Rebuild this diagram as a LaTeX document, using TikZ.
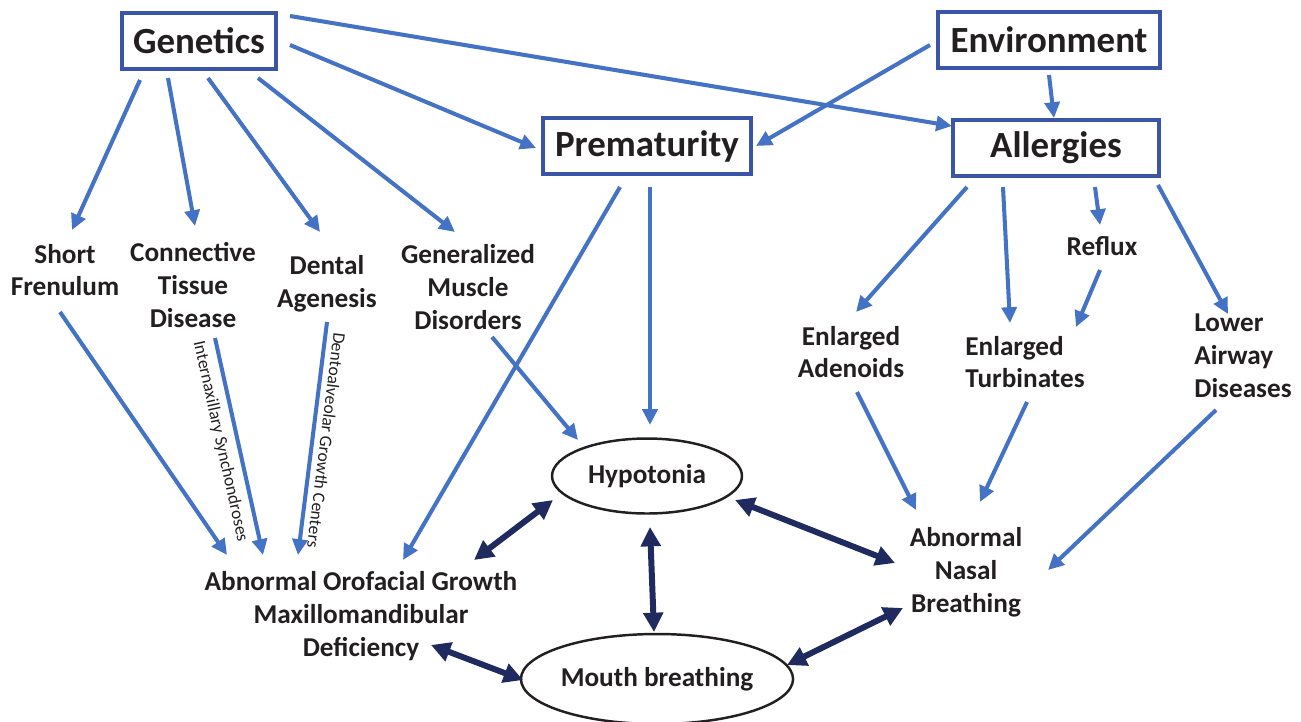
\documentclass[tikz,border=0pt]{standalone}
\usepackage{fontspec}
\setmainfont{Carlito}
\usepackage{tikz}
\usetikzlibrary{arrows.meta,calc,shapes.geometric}
\definecolor{lblue}{HTML}{4472C4}
\definecolor{bframe}{HTML}{3A55A8}
\definecolor{navy}{HTML}{1F2A5F}
\definecolor{txt}{HTML}{231F20}

\begin{document}
\begin{tikzpicture}[x=0.02cm,y=-0.02cm,
box/.style={draw=bframe,line width=2pt,minimum height=1.12cm,text=txt,font=\fontsize{21}{25}\selectfont\bfseries},
lbl/.style={align=center,text=txt,font=\fontsize{15.5}{18.7}\selectfont\bfseries},
ell/.style={ellipse,draw=txt,line width=1.4pt,inner sep=0pt},
arr/.style={draw=lblue,line width=2.3pt,-{Triangle[length=9pt,width=8.5pt]}},
dbl/.style={draw=navy,line width=3.4pt,{Triangle[length=11pt,width=11pt]}-{Triangle[length=11pt,width=11pt]}},
side/.style={text=txt,font=\fontsize{10}{12}\selectfont}]
\useasboundingbox (0,0) rectangle (1301,721);

\node[box,minimum width=3.08cm] (gen) at (199,41) {Genetics};
\node[box,minimum width=4.44cm] (env) at (1049,40) {Environment};
\node[box,minimum width=4.16cm] (prem) at (647,146) {Prematurity};
\node[box,minimum width=4.12cm] (alg) at (1056,148) {Allergies};

\node[lbl] (sf) at (65,270) {Short\\Frenulum};
\node[lbl] (ctd) at (193,285) {Connective\\Tissue\\Disease};
\node[lbl] (da) at (327,284) {Dental\\Agenesis};
\node[lbl] (gmd) at (468,287) {Generalized\\Muscle\\Disorders};
\node[lbl] (rfx) at (1102,246) {Reflux};
\node[lbl] (ead) at (851,352) {Enlarged\\Adenoids};
\node[lbl,align=left] (etb) at (1025,362) {Enlarged\\Turbinates};
\node[lbl,align=left] (lad) at (1243,356) {Lower\\Airway\\Diseases};
\node[lbl] (aog) at (361,616) {Abnormal Orofacial Growth\\Maxillomandibular\\Deficiency};
\node[lbl] (anb) at (966,572) {Abnormal\\Nasal\\Breathing};
\node[ell,lbl,minimum width=3.8cm,minimum height=1.5cm] (hyp) at (647,476) {Hypotonia};
\node[ell,lbl,minimum width=5.24cm,minimum height=1.8cm] (mb) at (657,679) {Mouth breathing};

% genetics
\draw[arr] ($(gen)+(-59,39)$) -- ($(sf)+(7,-40)$);
\draw[arr] ($(gen)+(-31,37)$) -- ($(ctd)+(2,-59)$);
\draw[arr] ($(gen)+(9,37)$) -- ($(da)+(-7,-52)$);
\draw[arr] ($(gen)+(59,37)$) -- ($(gmd)+(-13,-55)$);
\draw[arr] ($(gen)+(91,4)$) -- ($(prem)+(-111,2)$);
\draw[arr] ($(gen)+(91,-25)$) -- ($(alg)+(-104,-22)$);
% environment
\draw[arr] ($(env)+(-119,5)$) -- ($(prem)+(109,0)$);
\draw[arr] ($(env)+(0,35)$) -- ($(alg)+(-2,-30)$);
% prematurity
\draw[arr] ($(prem)+(-27,41)$) -- ($(aog)+(42,-56)$);
\draw[arr] ($(prem)+(3,41)$) -- ($(hyp)+(3,-51)$);
\draw[arr] ($(gmd)+(24,50)$) -- ($(hyp)+(-69,-36)$);
% to orofacial growth
\draw[arr] ($(sf)+(-5,42)$) -- ($(aog)+(-134,-61)$);
\draw[arr] ($(ctd)+(22,53)$) -- node[side,sloped,below=1pt,pos=.46] {Internaxillary Synchondroses} ($(aog)+(-98,-61)$);
\draw[arr] ($(da)+(0,38)$) -- node[side,sloped,allow upside down,above] {Dentoalveolar Growth Centers} ($(aog)+(-63,-61)$);
% allergies
\draw[arr] ($(alg)+(-89,39)$) -- ($(ead)+(5,-40)$);
\draw[arr] ($(alg)+(-53,39)$) -- ($(etb)+(-15,-39)$);
\draw[arr] ($(alg)+(39,39)$) -- ($(rfx)+(-2,-21)$);
\draw[arr] ($(alg)+(102,37)$) -- ($(lad)+(-15,-42)$);
\draw[arr] ($(rfx)+(-2,24)$) -- ($(etb)+(51,-35)$);
% to nasal breathing
\draw[arr] ($(ead)+(6,40)$) -- ($(anb)+(-50,-62)$);
\draw[arr] ($(etb)+(2,40)$) -- ($(anb)+(14,-70)$);
\draw[arr] ($(lad)+(-27,54)$) -- ($(anb)+(82,-2)$);
% two way
\draw[dbl] ($(hyp)+(-94,24)$) -- ($(aog)+(113,-56)$);
\draw[dbl] ($(hyp)+(3,51)$) -- ($(mb)+(-3,-47)$);
\draw[dbl] ($(hyp)+(88,24)$) -- ($(anb)+(-71,-9)$);
\draw[dbl] ($(mb)+(-134,1)$) -- ($(aog)+(70,29)$);
\draw[dbl] ($(mb)+(130,-14)$) -- ($(anb)+(-63,36)$);

\end{tikzpicture}
\end{document}
